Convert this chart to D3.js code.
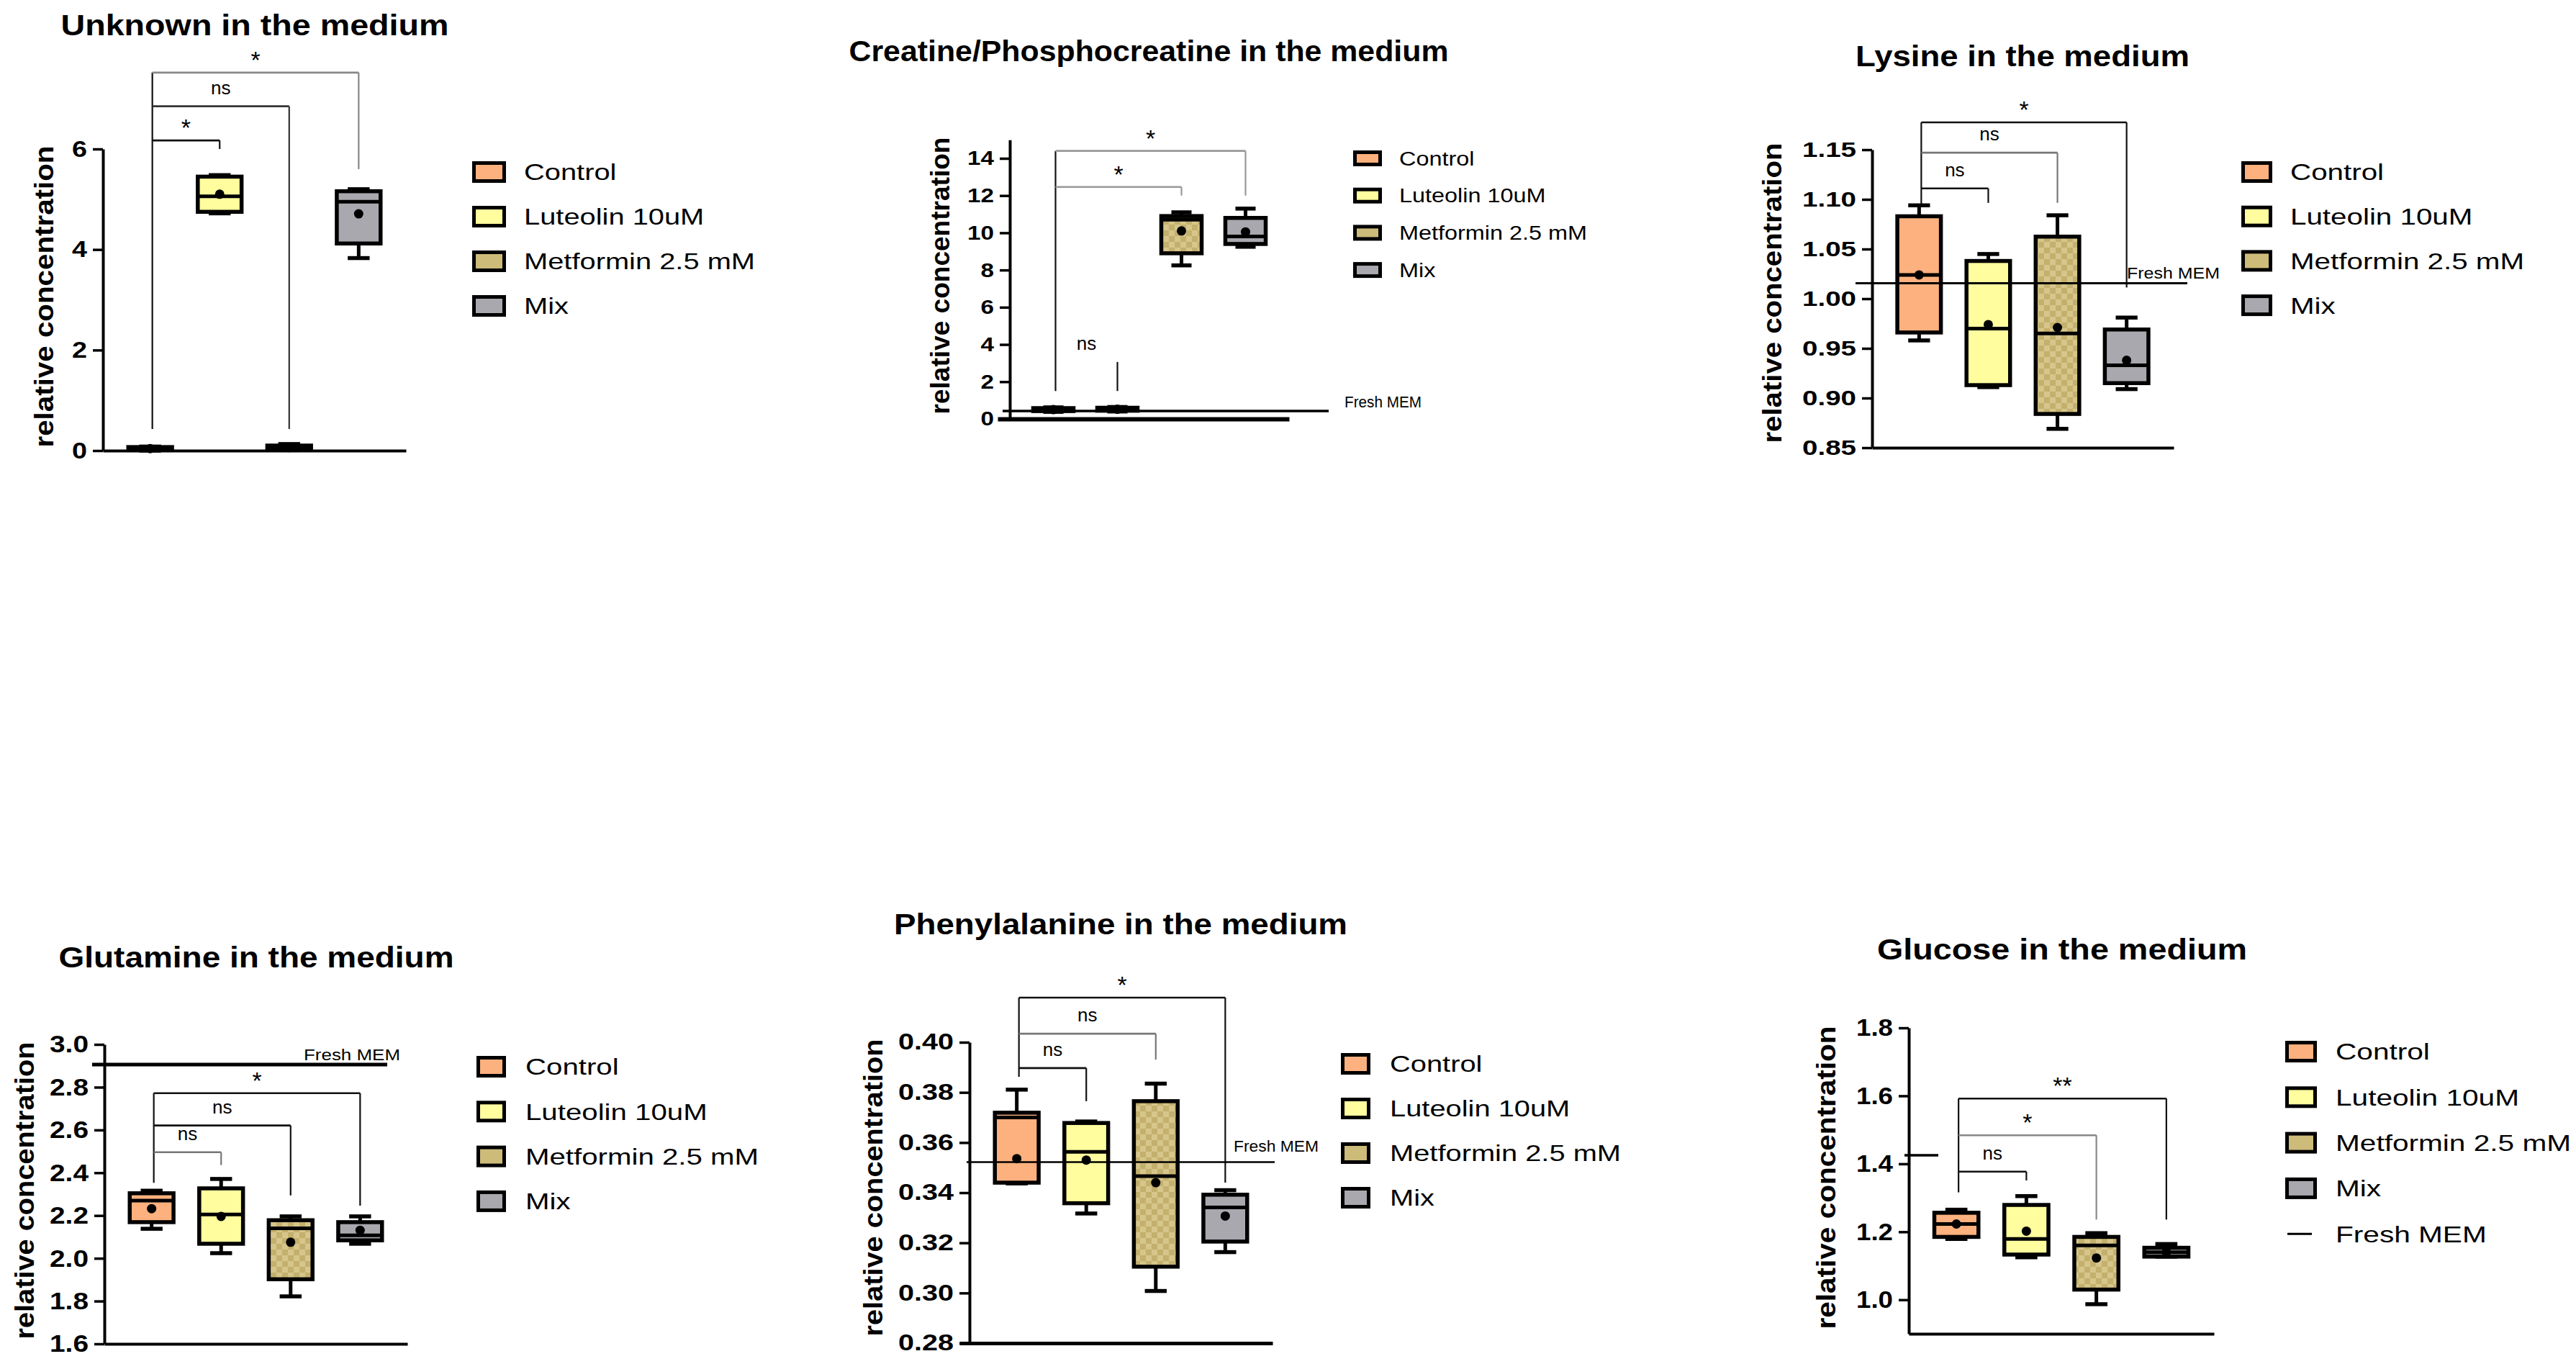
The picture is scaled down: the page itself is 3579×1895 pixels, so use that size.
<!DOCTYPE html>
<html><head><meta charset="utf-8">
<script src="https://cdn.jsdelivr.net/npm/d3@7"></script>
<style>
body{margin:0;background:#fff}
svg{display:block}
text{font-family:"Liberation Sans",Arial,Helvetica,sans-serif;fill:#000}
</style>
</head><body>
<svg id="chart" width="3579" height="1895"></svg>
<script>
// ---------------- DATA ----------------
const categories = ["Control", "Luteolin 10uM", "Metformin 2.5 mM", "Mix"];
const titles = ["Unknown in the medium", "Creatine/Phosphocreatine in the medium", "Lysine in the medium",
                "Glutamine in the medium", "Phenylalanine in the medium", "Glucose in the medium"];
const yLabel = "relative concentration";
const freshLabel = "Fresh MEM";

// box stats per category: [min, q1, median, q3, max]
const unknownBox = [[0.00, 0.01, 0.04, 0.07, 0.08], [4.72, 4.75, 5.06, 5.45, 5.48], [0.01, 0.02, 0.06, 0.10, 0.13], [3.83, 4.12, 4.95, 5.16, 5.20]];
const unknownMean = [0.04, 5.10, 0.06, 4.71];
const unknownTicks = [0, 2, 4, 6];
const unknownSig = [[0, 1, "*", 6.17, 6.0], [0, 2, "ns", 6.85, 0.43], [0, 3, "*", 7.52, 5.6]];

const creatineBox = [[0.38, 0.42, 0.50, 0.58, 0.62], [0.40, 0.44, 0.52, 0.60, 0.64], [8.25, 8.90, 10.70, 10.90, 11.10], [9.25, 9.40, 9.80, 10.80, 11.30]];
const creatineMean = [0.50, 0.52, 10.10, 10.05];
const creatineTicks = [0, 2, 4, 6, 8, 10, 12, 14];
const creatineSig = [[0, 1, "ns", 3.06, 1.5], [0, 2, "*", 12.46, 12.0], [0, 3, "*", 14.4, 12.0]];

const lysineBox = [[0.958, 0.966, 1.024, 1.083, 1.094], [0.911, 0.913, 0.970, 1.038, 1.045], [0.869, 0.884, 0.965, 1.0625, 1.084], [0.909, 0.915, 0.933, 0.969, 0.981]];
const lysineMean = [1.024, 0.974, 0.971, 0.938];
const lysineTicks = [0.85, 0.90, 0.95, 1.00, 1.05, 1.10, 1.15];
const lysineSig = [[0, 1, "ns", 1.111, 1.0965], [0, 2, "ns", 1.147, 1.0965], [0, 3, "*", 1.1775, 1.0113]];

const glutamineBox = [[2.138, 2.169, 2.270, 2.304, 2.316], [2.024, 2.068, 2.205, 2.327, 2.371], [1.822, 1.902, 2.140, 2.178, 2.196], [2.068, 2.084, 2.107, 2.169, 2.196]];
const glutamineMean = [2.232, 2.196, 2.075, 2.131];
const glutamineTicks = [1.6, 1.8, 2.0, 2.2, 2.4, 2.6, 2.8, 3.0];
const glutamineSig = [[0, 1, "ns", 2.496, 2.436], [0, 2, "ns", 2.621, 2.294], [0, 3, "*", 2.772, 2.246]];

const pheBox = [[0.3437, 0.3440, 0.3700, 0.3719, 0.3811], [0.3317, 0.3358, 0.3563, 0.3678, 0.3684], [0.3008, 0.3105, 0.3466, 0.3765, 0.3835], [0.3163, 0.3205, 0.3341, 0.3392, 0.3410]];
const pheMean = [0.3536, 0.3530, 0.3440, 0.3307];
const pheTicks = [0.28, 0.30, 0.32, 0.34, 0.36, 0.38, 0.40];
const pheSig = [[0, 1, "ns", 0.3897, 0.3765], [0, 2, "ns", 0.4034, 0.3931], [0, 3, "*", 0.4178, 0.344]];

const glucoseBox = [[1.179, 1.185, 1.223, 1.256, 1.265], [1.125, 1.133, 1.179, 1.279, 1.305], [0.987, 1.030, 1.160, 1.185, 1.196], [1.127, 1.127, 1.140, 1.153, 1.164]];
const glucoseMean = [1.223, 1.202, 1.123, 1.140];
const glucoseTicks = [1.0, 1.2, 1.4, 1.6, 1.8];
const glucoseSig = [[0, 1, "ns", 1.377, 1.351], [0, 2, "*", 1.484, 1.236], [0, 3, "**", 1.592, 1.236]];

// Fresh MEM reference level per panel (null = none)
const freshMEM = [null, 0.43, 1.0155, 2.906, 0.3522, 1.425];
// bottom end of the shared left bracket leg
const sigLeftEnd = [0.43, 1.5, 1.0936, 2.353, 0.3862, 1.316];
// y domains
const yDomains = [[0, 6], [0, 15], [0.85, 1.15], [1.6, 3.0], [0.28, 0.40], [0.9, 1.8]];

// ---------------- STYLE / LAYOUT ----------------
const fills = ["#FDB17E", "#FFFD9E", "url(#checker)", "#A8A8AE"];
const swatchFills = ["#FDB17E", "#FFFD9E", "#CDBB7A", "#A8A8AE"];

const layout = [
  {x0:143, x1:564, xs:143, ybPx:626, ytPx:207, ytVal:6, tickFs:32, tickW:21, fmt:d3.format("d"),
   title:{cx:354, by:49, w:539}, ylab:{bx:74, cy:412, len:419},
   leg:{sx:656, sw:47, sh:30, y0:239, dy:62, tx:728, fs:32, w:321},
   fresh:null, sigCol:["#111","#333","#888"], hideBar:[false,false,false], xw:4},
  {x0:1403, x1:1791, xs:1386, ybPx:582, ytPx:220, ytVal:14, tickFs:28, tickW:37, fmt:d3.format("d"),
   title:{cx:1596, by:85, w:833}, ylab:{bx:1319, cy:383, len:385},
   leg:{sx:1880, sw:40, sh:22, y0:220, dy:51.7, tx:1944, fs:27, w:261},
   fresh:{xa:1393, xb:1846, lx:1868, ly:566, lw:107, sw:3.5}, sigCol:["#111","#999","#999"], hideBar:[true,false,false], xw:6},
  {x0:2601, x1:3020, xs:2601, ybPx:622, ytPx:208, ytVal:1.15, tickFs:29, tickW:75, fmt:d3.format(".2f"),
   title:{cx:2810, by:92, w:464}, ylab:{bx:2475, cy:407, len:417},
   leg:{sx:3114, sw:43, sh:30, y0:239, dy:61.7, tx:3182, fs:32, w:325},
   fresh:{xa:2578, xb:3039, lx:2955, ly:387, lw:129, sw:3}, sigCol:["#111","#777","#111"], hideBar:[false,false,false], xw:4},
  {x0:145, x1:566, xs:145, ybPx:1867, ytPx:1451, ytVal:3.0, tickFs:34, tickW:54, fmt:d3.format(".1f"),
   title:{cx:356, by:1344, w:549}, ylab:{bx:47, cy:1654, len:413},
   leg:{sx:662, sw:41, sh:30, y0:1482, dy:62.3, tx:730, fs:32, w:324},
   fresh:{xa:128, xb:538, lx:422, ly:1473, lw:134, sw:5}, sigCol:["#777","#111","#111"], hideBar:[false,false,false], xw:4},
  {x0:1347, x1:1768, xs:1333, ybPx:1866, ytPx:1448, ytVal:0.40, tickFs:31, tickW:77, fmt:d3.format(".2f"),
   title:{cx:1557, by:1298, w:630}, ylab:{bx:1226, cy:1650, len:413},
   leg:{sx:1863, sw:41, sh:30, y0:1478, dy:62, tx:1931, fs:32, w:321},
   fresh:{xa:1343, xb:1771, lx:1714, ly:1600, lw:118, sw:2.5}, sigCol:["#111","#777","#111"], hideBar:[false,false,false], xw:5},
  {x0:2652, x1:3076, xs:2652, ybPx:1853, ytPx:1428, ytVal:1.8, tickFs:34, tickW:51, fmt:d3.format(".1f"),
   title:{cx:2865, by:1333, w:514}, ylab:{bx:2550, cy:1636, len:421},
   leg:{sx:3175, sw:44, sh:30, y0:1461, dy:63.3, tx:3245, fs:32, w:327},
   fresh:{xa:2646, xb:2693, lx:null, sw:3.5}, sigCol:["#111","#888","#111"], hideBar:[false,false,false], xw:4}
];

const boxes = [unknownBox, creatineBox, lysineBox, glutamineBox, pheBox, glucoseBox];
const means = [unknownMean, creatineMean, lysineMean, glutamineMean, pheMean, glucoseMean];
const tickSets = [unknownTicks, creatineTicks, lysineTicks, glutamineTicks, pheTicks, glucoseTicks];
const sigs = [unknownSig, creatineSig, lysineSig, glutamineSig, pheSig, glucoseSig];

// ---------------- DRAW ----------------
const svg = d3.select("#chart");
svg.append("rect").attr("width", 3579).attr("height", 1895).attr("fill", "#fff");
const defs = svg.append("defs");
const pat = defs.append("pattern").attr("id", "checker").attr("patternUnits", "userSpaceOnUse")
  .attr("width", 16).attr("height", 16);
pat.append("rect").attr("width", 16).attr("height", 16).attr("fill", "#D6C68B");
pat.append("rect").attr("width", 8).attr("height", 8).attr("fill", "#C4B06D");
pat.append("rect").attr("x", 8).attr("y", 8).attr("width", 8).attr("height", 8).attr("fill", "#C4B06D");

function fit(sel, w) { sel.attr("textLength", w).attr("lengthAdjust", "spacingAndGlyphs"); }

layout.forEach((L, p) => {
  const g = svg.append("g");
  const dom = yDomains[p];
  const y = d3.scaleLinear().domain([dom[0], L.ytVal]).range([L.ybPx, L.ytPx]);
  const yAxisScale = d3.scaleLinear().domain(dom).range([y(dom[0]), y(dom[1])]);
  const x = d3.scalePoint().domain(categories).range([L.x0, L.x1]).padding(0.68);
  const bw = x.step() * 0.63;

  // title
  g.append("text").attr("x", L.title.cx).attr("y", L.title.by).attr("text-anchor", "middle")
    .attr("font-size", 41).attr("font-weight", "bold").text(titles[p]).call(fit, L.title.w);

  // y label
  g.append("text").attr("transform", `translate(${L.ylab.bx},${L.ylab.cy}) rotate(-90)`)
    .attr("text-anchor", "middle").attr("font-size", 36).attr("font-weight", "bold")
    .text(yLabel).call(fit, L.ylab.len);

  // y axis
  const ya = g.append("g").attr("transform", `translate(${L.x0},0)`)
    .call(d3.axisLeft(yAxisScale).tickValues(tickSets[p]).tickFormat(L.fmt).tickSize(14).tickSizeOuter(0).tickPadding(8));
  ya.select(".domain").attr("stroke", "#000").attr("stroke-width", 4);
  ya.selectAll(".tick line").attr("stroke", "#000").attr("stroke-width", 3.5);
  const tt = ya.selectAll(".tick text").attr("font-size", L.tickFs).attr("font-weight", "bold")
    .attr("font-family", "'Liberation Sans',Arial,sans-serif").attr("fill", "#000");
  const topTxt = tt.nodes()[tt.size() - 1];
  const kt = L.tickW / topTxt.getComputedTextLength();
  tt.each(function () { d3.select(this).call(fit, this.getComputedTextLength() * kt); });

  // x axis (baseline only)
  const xa = g.append("g").attr("transform", `translate(0,${y(dom[0])})`)
    .call(d3.axisBottom(d3.scaleLinear().range([L.xs, L.x1])).ticks(0).tickSizeOuter(0));
  xa.select(".domain").attr("stroke", "#000").attr("stroke-width", L.xw);

  // significance brackets
  const sg = sigs[p];
  const xL = x(categories[0]) + 3;
  const topBar = d3.max(sg, d => d[3]);
  g.append("line").attr("x1", xL).attr("x2", xL).attr("y1", y(topBar)).attr("y2", y(sigLeftEnd[p]))
    .attr("stroke", "#111").attr("stroke-width", 2.2);
  sg.forEach((s, i) => {
    const xR = x(categories[s[1]]);
    const yb = y(s[3]);
    const col = L.sigCol[i];
    if (!L.hideBar[i]) {
      g.append("line").attr("x1", xL).attr("x2", xR).attr("y1", yb).attr("y2", yb)
        .attr("stroke", col).attr("stroke-width", 2.6);
    }
    g.append("line").attr("x1", xR).attr("x2", xR).attr("y1", yb).attr("y2", y(s[4]))
      .attr("stroke", col).attr("stroke-width", 2.2);
    const isNs = s[2] === "ns";
    g.append("text").attr("x", (xL + xR) / 2).attr("y", isNs ? yb - 17 : yb - 6)
      .attr("text-anchor", "middle").attr("font-size", isNs ? 26 : 34).text(s[2]);
  });

  // boxes
  const bg = g.append("g");
  boxes[p].forEach((b, i) => {
    const cx = x(categories[i]);
    const [mn, q1, md, q3, mx] = b;
    bg.append("line").attr("x1", cx).attr("x2", cx).attr("y1", y(q3)).attr("y2", y(mx)).attr("stroke", "#000").attr("stroke-width", 5);
    bg.append("line").attr("x1", cx).attr("x2", cx).attr("y1", y(q1)).attr("y2", y(mn)).attr("stroke", "#000").attr("stroke-width", 5);
    bg.append("line").attr("x1", cx - bw / 4).attr("x2", cx + bw / 4).attr("y1", y(mx)).attr("y2", y(mx)).attr("stroke", "#000").attr("stroke-width", 5.5);
    bg.append("line").attr("x1", cx - bw / 4).attr("x2", cx + bw / 4).attr("y1", y(mn)).attr("y2", y(mn)).attr("stroke", "#000").attr("stroke-width", 5.5);
    bg.append("rect").attr("x", cx - bw / 2).attr("y", y(q3)).attr("width", bw)
      .attr("height", Math.max(0.5, y(q1) - y(q3))).attr("fill", fills[i])
      .attr("stroke", "#000").attr("stroke-width", 5.5);
    bg.append("line").attr("x1", cx - bw / 2).attr("x2", cx + bw / 2).attr("y1", y(md)).attr("y2", y(md))
      .attr("stroke", "#000").attr("stroke-width", 5);
    bg.append("circle").attr("cx", cx).attr("cy", y(means[p][i])).attr("r", 6.5).attr("fill", "#000");
  });

  // Fresh MEM line (drawn over boxes)
  if (freshMEM[p] !== null) {
    const fy = y(freshMEM[p]);
    g.append("line").attr("x1", L.fresh.xa).attr("x2", L.fresh.xb).attr("y1", fy).attr("y2", fy)
      .attr("stroke", "#000").attr("stroke-width", L.fresh.sw);
    if (L.fresh.lx !== null) {
      g.append("text").attr("x", L.fresh.lx).attr("y", L.fresh.ly).attr("font-size", 22)
        .text(freshLabel).call(fit, L.fresh.lw);
    }
  }

  // legend
  const lg = g.append("g");
  const probe = lg.append("text").attr("font-size", L.leg.fs).text(categories[2]);
  const k = L.leg.w / probe.node().getComputedTextLength();
  probe.remove();
  const capH = L.leg.fs * 0.716;
  categories.forEach((c, i) => {
    const cy = L.leg.y0 + i * L.leg.dy;
    lg.append("rect").attr("x", L.leg.sx + 2.5).attr("y", cy - L.leg.sh / 2 + 2.5)
      .attr("width", L.leg.sw - 5).attr("height", L.leg.sh - 5)
      .attr("fill", swatchFills[i]).attr("stroke", "#000").attr("stroke-width", 5);
    const t = lg.append("text").attr("x", L.leg.tx).attr("y", cy + capH / 2).attr("font-size", L.leg.fs).text(c);
    t.call(fit, t.node().getComputedTextLength() * k);
  });
  if (p === 5) {
    const cy = L.leg.y0 + 4 * L.leg.dy;
    lg.append("line").attr("x1", L.leg.sx + 3).attr("x2", L.leg.sx + 37).attr("y1", cy).attr("y2", cy)
      .attr("stroke", "#000").attr("stroke-width", 3);
    const t = lg.append("text").attr("x", L.leg.tx).attr("y", cy + capH / 2).attr("font-size", L.leg.fs).text(freshLabel);
    t.call(fit, t.node().getComputedTextLength() * k);
  }
});
</script>
</body></html>
